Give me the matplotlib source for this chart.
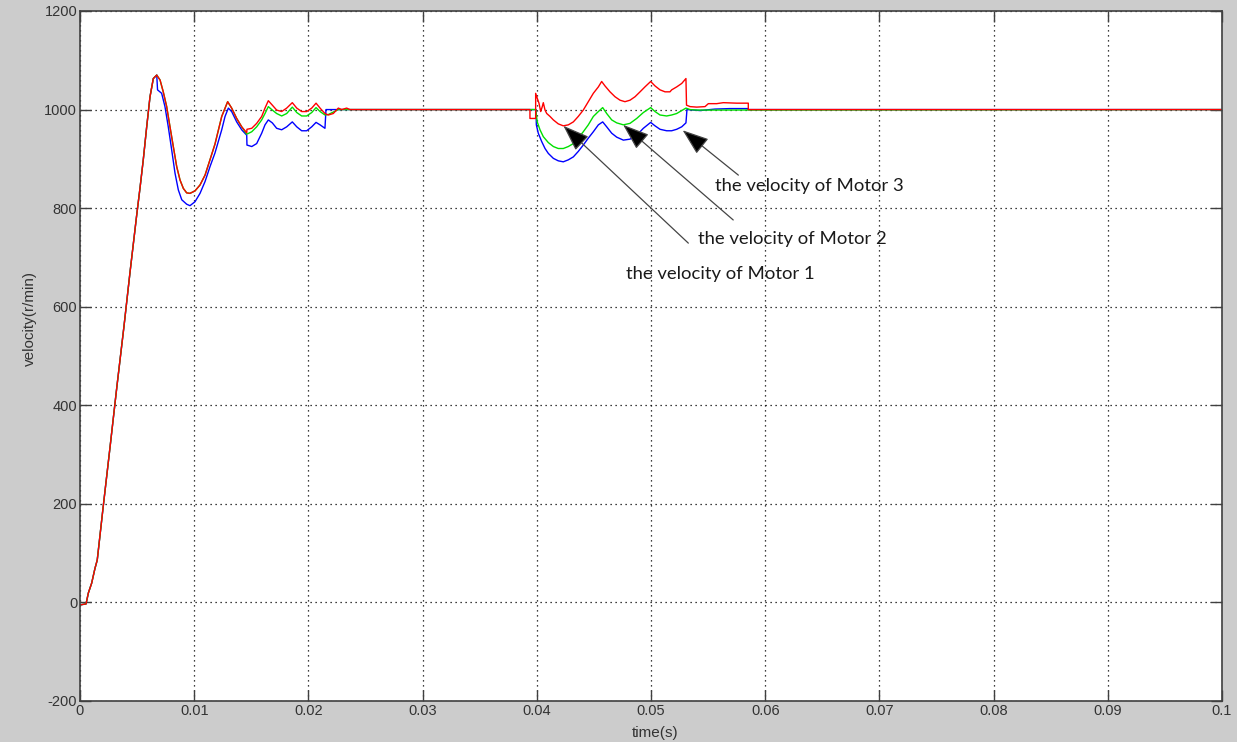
import matplotlib
matplotlib.use('Agg')
import matplotlib.pyplot as plt

plt.rcParams['axes.unicode_minus'] = False

# shared start-up ramp (all three motors overlap here)
t_start = [0.0, 0.00053, 0.00073, 0.00102, 0.00131, 0.00151, 0.00201, 0.00263,
           0.00324, 0.00385, 0.00438, 0.00496, 0.00525, 0.00554, 0.00584, 0.00613,
           0.00642, 0.00672]
v_start = [-5, -3, 19, 39, 69, 86, 190, 315, 440, 560, 670, 785, 840, 898, 965,
           1026, 1063, 1070]

# Motor 3 (red)
t_m3 = [0.00701, 0.00729, 0.00759, 0.00788, 0.00817, 0.00847, 0.00876, 0.00905,
        0.00934, 0.00963, 0.01007, 0.01051, 0.01095, 0.01138, 0.01182, 0.01241,
        0.01293, 0.01328, 0.01372, 0.01416, 0.01460, 0.01462, 0.01504, 0.01547,
        0.01591, 0.01620, 0.01649, 0.01684, 0.01722, 0.01766, 0.01810, 0.01859,
        0.01898, 0.01941, 0.01985, 0.02029, 0.02067, 0.02102, 0.02145, 0.02174,
        0.02218, 0.02262, 0.02292, 0.02335, 0.02364, 0.03940, 0.03940, 0.03990,
        0.03990, 0.04004, 0.04019, 0.04034, 0.04048, 0.04057, 0.04072, 0.04087,
        0.04116, 0.04145, 0.04188, 0.04232, 0.04276, 0.04320, 0.04363, 0.04407,
        0.04451, 0.04495, 0.04539, 0.04568, 0.04597, 0.04641, 0.04685, 0.04729,
        0.04772, 0.04816, 0.04860, 0.04904, 0.04947, 0.04997, 0.05035, 0.05079,
        0.05123, 0.05166, 0.05181, 0.05225, 0.05269, 0.05306, 0.05311, 0.05342,
        0.05400, 0.05473, 0.05502, 0.05575, 0.05633, 0.05750, 0.05852, 0.05852,
        0.1]
v_m3 = [1060, 1036, 1006, 965, 925, 884, 857, 840, 831, 830, 835, 847, 867, 898,
        930, 986, 1016, 1003, 982, 965, 953, 960, 962, 972, 986, 1003, 1018, 1009,
        999, 996, 1003, 1014, 1003, 996, 996, 1003, 1013, 1003, 992, 989, 992,
        1003, 1000, 1003, 1000, 1000, 982, 982, 1033, 1023, 1013, 996, 1006, 1014,
        999, 992, 986, 979, 971, 967, 969, 975, 986, 999, 1016, 1033, 1046, 1057,
        1048, 1036, 1026, 1019, 1016, 1019, 1026, 1036, 1046, 1057, 1048, 1040,
        1036, 1036, 1040, 1046, 1053, 1063, 1009, 1006, 1005, 1006, 1012, 1012,
        1014, 1013, 1013, 1000, 1000]

# Motor 2 (green)
t_m2 = [0.00701, 0.00729, 0.00759, 0.00788, 0.00817, 0.00847, 0.00876, 0.00905,
        0.00934, 0.00963, 0.01007, 0.01051, 0.01095, 0.01138, 0.01182, 0.01241,
        0.01293, 0.01328, 0.01372, 0.01416, 0.01460, 0.01504, 0.01547, 0.01591,
        0.01620, 0.01649, 0.01684, 0.01722, 0.01766, 0.01810, 0.01859, 0.01898,
        0.01941, 0.01985, 0.02029, 0.02067, 0.02102, 0.02145, 0.02174, 0.02218,
        0.02262, 0.03990, 0.04004, 0.04028, 0.04057, 0.04101, 0.04145, 0.04188,
        0.04232, 0.04276, 0.04320, 0.04363, 0.04407, 0.04451, 0.04495, 0.04539,
        0.04577, 0.04612, 0.04656, 0.04700, 0.04758, 0.04816, 0.04875, 0.04933,
        0.04997, 0.05035, 0.05079, 0.05137, 0.05181, 0.05225, 0.05269, 0.05306,
        0.05342, 0.05400, 0.1]
v_m2 = [1060, 1036, 1006, 965, 925, 884, 857, 840, 831, 830, 835, 847, 867, 898,
        930, 986, 1016, 1003, 982, 965, 950, 955, 965, 979, 992, 1006, 999, 992,
        987, 992, 1005, 994, 987, 987, 994, 1004, 996, 989, 990, 995, 1000, 1000,
        975, 959, 945, 933, 925, 921, 921, 925, 931, 942, 955, 969, 986, 996, 1004,
        992, 979, 973, 969, 972, 982, 994, 1004, 996, 989, 987, 989, 992, 998,
        1003, 1000, 999, 1000]

# Motor 1 (blue)
t_m1 = [0.00679, 0.00715, 0.00744, 0.00773, 0.00803, 0.00832, 0.00861, 0.00891,
        0.00934, 0.00963, 0.01007, 0.01051, 0.01095, 0.01138, 0.01182, 0.01241,
        0.01270, 0.01299, 0.01328, 0.01372, 0.01416, 0.01460, 0.01462, 0.01504,
        0.01547, 0.01591, 0.01620, 0.01649, 0.01684, 0.01722, 0.01766, 0.01810,
        0.01859, 0.01898, 0.01941, 0.01985, 0.02029, 0.02067, 0.02102, 0.02145,
        0.02154, 0.03993, 0.03996, 0.04013, 0.04043, 0.04072, 0.04101, 0.04145,
        0.04188, 0.04232, 0.04276, 0.04320, 0.04363, 0.04407, 0.04451, 0.04495,
        0.04539, 0.04577, 0.04612, 0.04656, 0.04700, 0.04758, 0.04816, 0.04875,
        0.04933, 0.04997, 0.05035, 0.05079, 0.05137, 0.05181, 0.05225, 0.05269,
        0.05306, 0.05315, 0.05429, 0.05560, 0.05692, 0.05849, 0.05850, 0.1]
v_m1 = [1040, 1033, 1006, 965, 918, 871, 837, 817, 808, 805, 813, 830, 854, 884,
        912, 959, 986, 1003, 996, 975, 959, 948, 928, 925, 931, 952, 969, 979, 973,
        962, 959, 965, 975, 965, 957, 957, 965, 974, 969, 962, 1000, 1000, 969,
        952, 935, 921, 911, 901, 896, 894, 898, 904, 915, 928, 942, 955, 969, 975,
        965, 952, 944, 938, 940, 948, 962, 974, 967, 960, 957, 957, 960, 965, 973,
        1000, 998, 1001, 1002, 1002, 1000, 1000]

labels = ['the velocity of Motor 1', 'the velocity of Motor 2', 'the velocity of Motor 3']
arrow_tips = [(0.04233, 967), (0.04756, 969), (0.05277, 958)]
arrow_tails = [(0.05327, 729), (0.05720, 776), (0.05765, 867)]
label_pos = [(0.04781, 666), (0.05414, 737), (0.05560, 844)]

x_ticks = [0, 0.01, 0.02, 0.03, 0.04, 0.05, 0.06, 0.07, 0.08, 0.09, 0.1]
x_ticklabels = ['0', '0.01', '0.02', '0.03', '0.04', '0.05', '0.06', '0.07', '0.08', '0.09', '0.1']
y_ticks = [-200, 0, 200, 400, 600, 800, 1000, 1200]

fig = plt.figure(figsize=(12.37, 7.42), dpi=100, facecolor='#cccccc')
ax = fig.add_axes([80 / 1237, 1 - 701 / 742, 1142 / 1237, 690 / 742])
ax.set_facecolor('white')

ax.plot(t_start + t_m1, v_start + v_m1, color='#0000ff', lw=1.0)
ax.plot(t_start + t_m2, v_start + v_m2, color='#00e000', lw=1.0)
ax.plot(t_start + t_m3, v_start + v_m3, color='#ff0000', lw=1.0)

ax.set_xlim(0, 0.1)
ax.set_ylim(-200, 1200)
ax.set_xticks(x_ticks)
ax.set_xticklabels(x_ticklabels)
ax.set_yticks(y_ticks)
ax.grid(True, color='black', linestyle=(0, (1, 3)), linewidth=0.9)
ax.tick_params(direction='in', length=8, width=1, color='#404040', top=True, right=True,
               labelsize=10.5, labelcolor='#333333', pad=2)
for s in ax.spines.values():
    s.set_color('#404040')
    s.set_linewidth(1.2)
for lab in ax.get_xticklabels() + ax.get_yticklabels():
    lab.set_family('Liberation Sans')

for lab, tip, tail, pos in zip(labels, arrow_tips, arrow_tails, label_pos):
    ax.annotate('', xy=tip, xytext=tail,
                arrowprops=dict(arrowstyle='-|>,head_length=1.1,head_width=0.4',
                                color='#444444', lw=0.9, mutation_scale=15,
                                shrinkA=0, shrinkB=0, fc='black', ec='#444444'))
    ax.text(pos[0], pos[1], lab, fontsize=13.3, family='Lato', color='#1a1a1a',
            va='center', ha='left')

fig.text(30 / 1237, 1 - 318 / 742, 'velocity(r/min)', rotation=90, ha='center', va='center',
         fontsize=11, family='Liberation Sans', color='#333333')
fig.text(655 / 1237, 1 - 733 / 742, 'time(s)', ha='center', va='center',
         fontsize=11, family='Liberation Sans', color='#333333')

fig.savefig('out.png', dpi=100, facecolor=fig.get_facecolor())
